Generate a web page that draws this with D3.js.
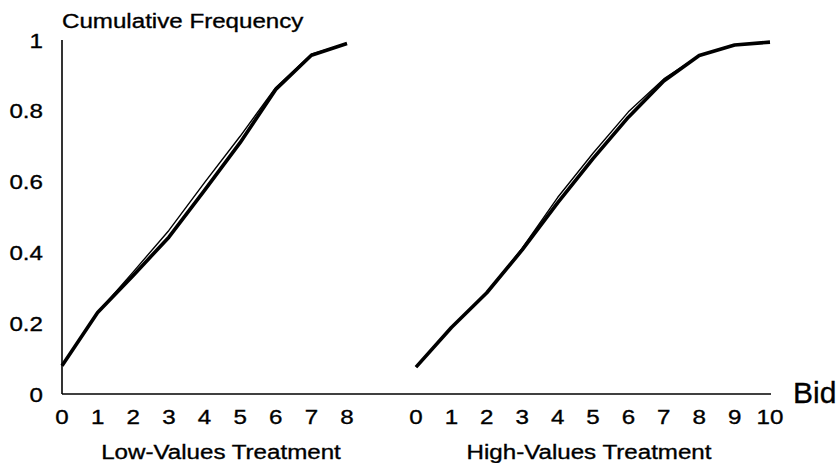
<!DOCTYPE html>
<html>
<head>
<meta charset="utf-8">
<script src="https://cdn.jsdelivr.net/npm/d3@7"></script>
<style>
  body { margin: 0; background: #fff; }
  text { font-family: "Liberation Sans", Arial, sans-serif; fill: #000; stroke: #000; stroke-width: 0.35; }
</style>
</head>
<body>
<div id="chart"></div>
<script>
// Low-values treatment: bids 0..8
const lowBids = [0, 1, 2, 3, 4, 5, 6, 7, 8];
const lowThick = [0.08, 0.23, 0.335, 0.443, 0.575, 0.71, 0.86, 0.957, 0.99];
const lowThin  = [0.08, 0.23, 0.345, 0.462, 0.597, 0.728, 0.866, 0.96, 0.99];

// High-values treatment: bids 0..10
const highBids = [0, 1, 2, 3, 4, 5, 6, 7, 8, 9, 10];
const highThick = [0.076, 0.188, 0.286, 0.407, 0.54, 0.665, 0.782, 0.884, 0.956, 0.986, 0.994];
const highThin  = [0.076, 0.188, 0.286, 0.412, 0.555, 0.68, 0.797, 0.89, 0.956, 0.986, 0.994];

const yTicks = [0, 0.2, 0.4, 0.6, 0.8, 1];
const yTickLabels = ['0', '0.2', '0.4', '0.6', '0.8', '1'];

const W = 838, H = 463;
const FS = 21;
const STRETCH = 1.15; // the scanned labels are a bit wider than the font

const svg = d3.select('#chart').append('svg')
  .attr('width', W)
  .attr('height', H);

const y = d3.scaleLinear().domain([0, 1]).range([394, 40]);
const xLow = d3.scaleLinear().domain([0, 8]).range([62, 347]);
const xHigh = d3.scaleLinear().domain([0, 10]).range([416, 770]);

// helper for horizontally stretched text
const label = (txt, x, yy, size, anchor, sx) => {
  svg.append('text')
    .attr('transform', `translate(${x},${yy}) scale(${sx},1)`)
    .attr('text-anchor', anchor)
    .attr('font-size', size)
    .text(txt);
};

// axes lines
svg.append('line')
  .attr('x1', 62).attr('x2', 771)
  .attr('y1', y(0)).attr('y2', y(0))
  .attr('stroke', '#000').attr('stroke-width', 1.6);
svg.append('line')
  .attr('x1', 62).attr('x2', 62)
  .attr('y1', y(1)).attr('y2', y(0))
  .attr('stroke', '#000').attr('stroke-width', 1.6);

// y tick labels
yTicks.forEach((t, i) => {
  label(yTickLabels[i], 43, y(t) + 7.5, FS, 'end', STRETCH);
});

// x tick labels
lowBids.forEach(b => label(String(b), xLow(b), 424, FS, 'middle', STRETCH));
highBids.forEach(b => label(String(b), xHigh(b), 424, FS, 'middle', STRETCH));

// titles
label('Cumulative Frequency', 62, 28, FS, 'start', STRETCH);
label('Low-Values Treatment', 221, 459, FS, 'middle', STRETCH);
label('High-Values Treatment', 589, 459, FS, 'middle', STRETCH);
label('Bid', 793, 403, 30, 'start', 1);

// curves
const drawLine = (xs, vals, xScale, width) => {
  const line = d3.line()
    .x((d, i) => xScale(xs[i]))
    .y(d => y(d));
  svg.append('path')
    .datum(vals)
    .attr('d', line)
    .attr('fill', 'none')
    .attr('stroke', '#000')
    .attr('stroke-width', width)
    .attr('stroke-linejoin', 'round');
};

drawLine(lowBids, lowThick, xLow, 3.6);
drawLine(lowBids, lowThin, xLow, 1.4);
drawLine(highBids, highThick, xHigh, 3.6);
drawLine(highBids, highThin, xHigh, 1.4);
</script>
</body>
</html>
